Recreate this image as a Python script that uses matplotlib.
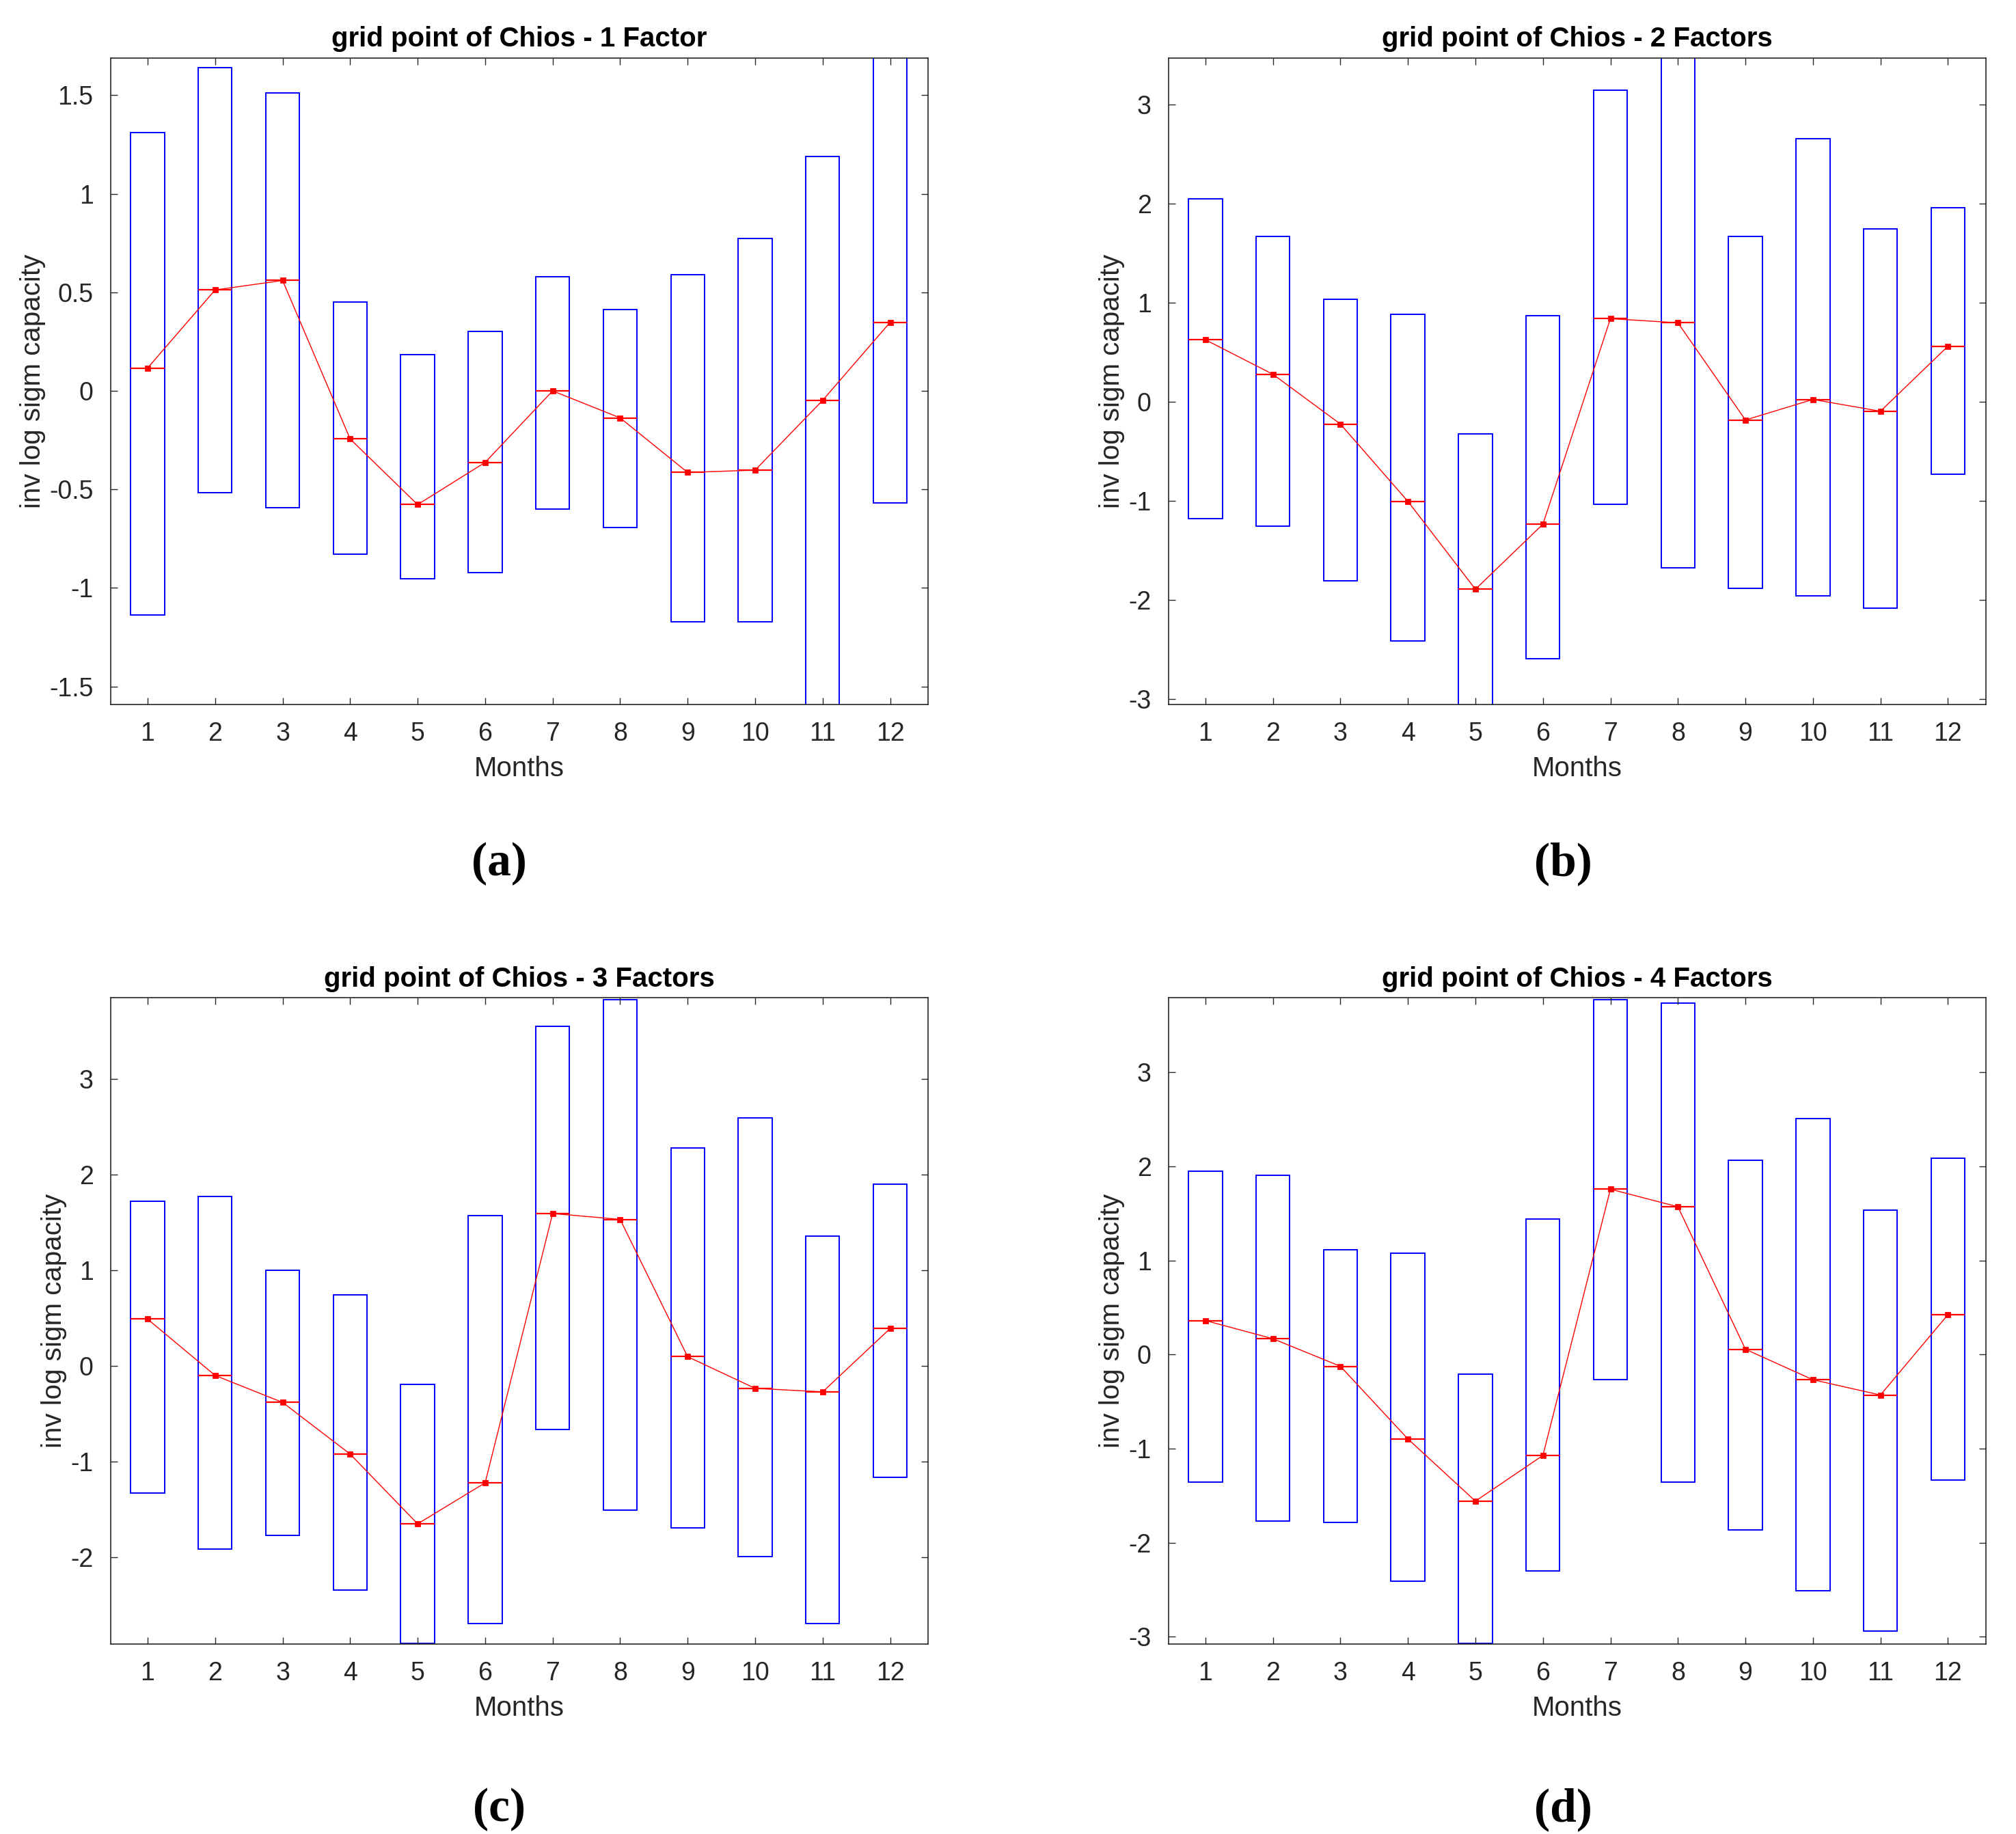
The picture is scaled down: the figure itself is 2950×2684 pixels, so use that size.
import numpy as np
import matplotlib
matplotlib.use('Agg')
import matplotlib.pyplot as plt
from matplotlib.ticker import FuncFormatter

plt.rcParams['font.family'] = ['Liberation Sans', 'DejaVu Sans']
plt.rcParams['axes.unicode_minus'] = False

months = np.arange(1, 13)

# box top / bottom / median per month, one set per factor count
top_1 = [1.31, 1.64, 1.51, 0.45, 0.185, 0.30, 0.58, 0.414, 0.59, 0.774, 1.19, 1.85]
bot_1 = [-1.137, -0.515, -0.592, -0.83, -0.952, -0.923, -0.598, -0.693, -1.17, -1.17, -1.75, -0.568]
med_1 = [0.116, 0.512, 0.56, -0.244, -0.577, -0.363, 0.0, -0.137, -0.414, -0.402, -0.048, 0.348]

top_2 = [2.044, 1.666, 1.034, 0.886, -0.325, 0.868, 3.142, 3.6, 1.666, 2.652, 1.742, 1.955]
bot_2 = [-1.175, -1.252, -1.802, -2.41, -3.2, -2.593, -1.034, -1.677, -1.878, -1.955, -2.079, -0.732]
med_2 = [0.626, 0.278, -0.224, -1.004, -1.89, -1.234, 0.839, 0.797, -0.183, 0.024, -0.095, 0.561]

top_3 = [1.724, 1.773, 1.0, 0.742, -0.19, 1.571, 3.552, 3.83, 2.282, 2.595, 1.362, 1.902]
bot_3 = [-1.331, -1.914, -1.773, -2.344, -2.9, -2.693, -0.663, -1.503, -1.693, -1.994, -2.693, -1.16]
med_3 = [0.491, -0.098, -0.38, -0.92, -1.65, -1.221, 1.595, 1.534, 0.098, -0.233, -0.27, 0.393]

top_4 = [1.95, 1.907, 1.115, 1.078, -0.206, 1.439, 3.77, 3.738, 2.062, 2.511, 1.533, 2.087]
bot_4 = [-1.352, -1.769, -1.782, -2.411, -3.07, -2.299, -0.268, -1.352, -1.863, -2.511, -2.941, -1.333]
med_4 = [0.361, 0.168, -0.125, -0.897, -1.558, -1.072, 1.757, 1.57, 0.056, -0.268, -0.43, 0.424]

titles = ['grid point of Chios - 1 Factor', 'grid point of Chios - 2 Factors',
          'grid point of Chios - 3 Factors', 'grid point of Chios - 4 Factors']
panel_tags = ['(a)', '(b)', '(c)', '(d)']

fig = plt.figure(figsize=(14.75, 13.42), dpi=200)

W, H = 0.4055, 0.3525
boxes = [(0.0548, 0.6160), (0.5795, 0.6160), (0.0548, 0.1034), (0.5795, 0.1034)]
ylims = [(-1.59, 1.69), (-3.05, 3.47), (-2.91, 3.85), (-3.08, 3.79)]
yticks = [np.arange(-1.5, 1.51, 0.5), np.arange(-3, 3.1, 1),
          np.arange(-2, 3.1, 1), np.arange(-3, 3.1, 1)]
tag_pos = [(0.2475, 0.529), (0.7755, 0.529), (0.2475, 0.0135), (0.7755, 0.0135)]

data = [(top_1, bot_1, med_1), (top_2, bot_2, med_2),
        (top_3, bot_3, med_3), (top_4, bot_4, med_4)]

dark = '#262626'
for i, (top, bot, med) in enumerate(data):
    ax = fig.add_axes([boxes[i][0], boxes[i][1], W, H])
    top = np.array(top); bot = np.array(bot); med = np.array(med)

    ax.bar(months, top - bot, bottom=bot, width=0.5, fill=False,
           edgecolor='#0000ff', linewidth=0.7)
    ax.hlines(med, months - 0.25, months + 0.25, color='#ff0000', linewidth=0.8)
    ax.plot(months, med, '-', color='#ff0000', linewidth=0.5,
            marker='s', markersize=2.2)

    ax.set_xlim(0.45, 12.56)
    ax.set_ylim(*ylims[i])
    ax.set_xticks(months)
    ax.set_yticks(yticks[i])
    ax.yaxis.set_major_formatter(FuncFormatter(lambda v, p: '%g' % v))
    ax.tick_params(direction='in', top=True, right=True, length=3.6,
                   width=0.5, colors=dark, labelsize=13.5, pad=9)
    for s in ax.spines.values():
        s.set_color(dark)
        s.set_linewidth(0.6)

    ax.set_title(titles[i], fontsize=14.5, fontweight='bold', pad=6)
    ax.set_xlabel('Months', fontsize=14.5, color=dark, labelpad=5)
    ax.set_ylabel('inv log sigm capacity', fontsize=14.5, color=dark, labelpad=2)

    fig.text(tag_pos[i][0], tag_pos[i][1], panel_tags[i], fontsize=25,
             fontweight='bold', family=['Liberation Serif', 'DejaVu Serif'],
             ha='center', va='center')

fig.savefig('out.png', dpi=200)
